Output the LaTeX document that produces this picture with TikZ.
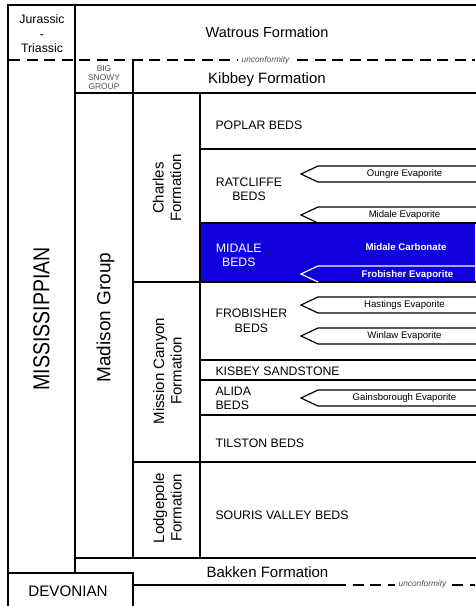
\documentclass[tikz,border=0pt]{standalone}
\usepackage{fontspec}
\setmainfont{Liberation Sans}
\definecolor{midblue}{RGB}{16,0,220}
\definecolor{softgray}{RGB}{80,80,80}
\newcommand\fsz[2]{\fontsize{#1}{#2}\selectfont}
\tikzset{
  border/.style={line width=1.6pt, line cap=rect},
  unconf/.style={line width=2.7pt, dash pattern=on 11pt off 6.5pt},
  evap/.style={line width=1.2pt, line join=miter},
  lbl/.style={inner sep=0pt, outer sep=0pt},
  big/.style={lbl, font=\fsz{15}{17.5}},
  bed/.style={lbl, font=\fsz{12.3}{14.5}},
  ev/.style={lbl, font=\fsz{9.6}{11}},
  evw/.style={lbl, font=\fsz{9.7}{11}\bfseries, text=white},
  rot/.style={lbl, rotate=90, align=center, font=\fsz{15}{17.5}},
  unc/.style={lbl, font=\fsz{8.3}{9}\itshape, text=softgray},
}
\begin{document}
\begin{tikzpicture}[x=1pt,y=-1pt]
\useasboundingbox (0,0) rectangle (475,606);
\fill[white] (0,0) rectangle (475,606);
% blue Midale band
\fill[midblue] (200,223) rectangle (475,282);
% frame lines
\draw[border] (8,606) -- (8,5) -- (475,5);
\draw[border] (75,5) -- (75,573);
\draw[border] (133,60) -- (133,558);
\draw[border] (133,573) -- (133,606);
\draw[border] (200,93) -- (200,558);
\draw[border] (75,93) -- (475,93);
\draw[border] (200,149) -- (475,149);
\draw[border] (200,223) -- (475,223);
\draw[border] (133,282) -- (475,282);
\draw[border] (200,360) -- (475,360);
\draw[border] (200,380) -- (475,380);
\draw[border] (200,415) -- (475,415);
\draw[border] (133,462) -- (475,462);
\draw[border] (75,558) -- (475,558);
\draw[border] (8,573) -- (133,573);
\draw[border] (133,585) -- (335,585);
% unconformities
\draw[unconf] (9,60) -- (238,60);
\draw[unconf] (297,60) -- (475,60);
\node[unc] (unc1) at (265.5,60) {unconformity};
\draw[unconf] (335,585) -- (395,585);
\draw[unconf] (452,585) -- (475,585);
\node[unc] (unc2) at (422.5,584.5) {unconformity};
% evaporite arrows
\foreach \yy in {174,215,305,336,398}{
  \draw[evap] (476,\yy-8) -- (318,\yy-8) -- (301,\yy) -- (318,\yy+8) -- (476,\yy+8);
}
\draw[evap, white] (476,266) -- (318,266) -- (301,274) -- (318,282);
% headers
\node[lbl, align=center, font=\fsz{12.3}{14.5}] (jur) at (42,34) {Jurassic\\-\\Triassic};
\node[lbl, anchor=base, font=\fsz{14.5}{17}] (watrous) at (267,37.5) {Watrous Formation};
\node[lbl, anchor=base, font=\fsz{15}{17}] (kibbey) at (267,83) {Kibbey Formation};
\node[lbl, align=center, font=\fsz{8.4}{9}, text=softgray] (bigsnowy) at (104,77.5) {BIG\\SNOWY\\GROUP};
\node[lbl, rotate=90] (miss) at (41.5,319) {\fsz{23}{25}\scalebox{0.85}[1]{MISSISSIPPIAN}};
\node[lbl, rotate=90, font=\fsz{19}{21}] (madison) at (105.5,317.5) {Madison Group};
\node[rot] (charles) at (167,188) {Charles\\Formation};
\node[rot] (mission) at (167.5,371) {Mission Canyon\\Formation};
\node[rot] (lodge) at (167.5,508) {Lodgepole\\Formation};
% beds
\node[bed, anchor=base west] (poplar) at (215.5,129.5) {POPLAR BEDS};
\node[bed, anchor=base] (ratA) at (249,186.7) {RATCLIFFE};
\node[bed, anchor=base] (ratB) at (249,200.9) {BEDS};
\node[bed, anchor=base, text=white] (midA) at (238.8,252.3) {MIDALE};
\node[bed, anchor=base, text=white] (midB) at (238.8,266.6) {BEDS};
\node[bed, anchor=base] (frobA) at (251.4,317.7) {FROBISHER};
\node[bed, anchor=base] (frobB) at (251.4,332.2) {BEDS};
\node[bed, anchor=base west] (kisbey) at (215.5,375) {KISBEY SANDSTONE};
\node[bed, anchor=base west] (alidaA) at (215.5,395) {ALIDA};
\node[bed, anchor=base west] (alidaB) at (215.5,409.5) {BEDS};
\node[bed, anchor=base west] (tilston) at (215.5,447.5) {TILSTON BEDS};
\node[bed, anchor=base west] (souris) at (215.5,519.5) {SOURIS VALLEY BEDS};
% evaporite labels
\node[ev] (oungre) at (404.5,174.5) {Oungre Evaporite};
\node[ev] (midev) at (404.5,215.5) {Midale Evaporite};
\node[evw] (midcarb) at (406,247) {Midale Carbonate};
\node[evw] (frobev) at (407.5,274.8) {Frobisher Evaporite};
\node[ev] (hastings) at (404.5,305.5) {Hastings Evaporite};
\node[ev] (winlaw) at (404.5,336.5) {Winlaw Evaporite};
\node[ev] (gains) at (404.5,398.5) {Gainsborough Evaporite};
% bottom
\node[lbl, anchor=base, font=\fsz{15}{17}] (bakken) at (267.5,577.5) {Bakken Formation};
\node[lbl, anchor=base, font=\fsz{15.2}{17}] (devonian) at (68,596) {DEVONIAN};
\end{tikzpicture}
\end{document}
